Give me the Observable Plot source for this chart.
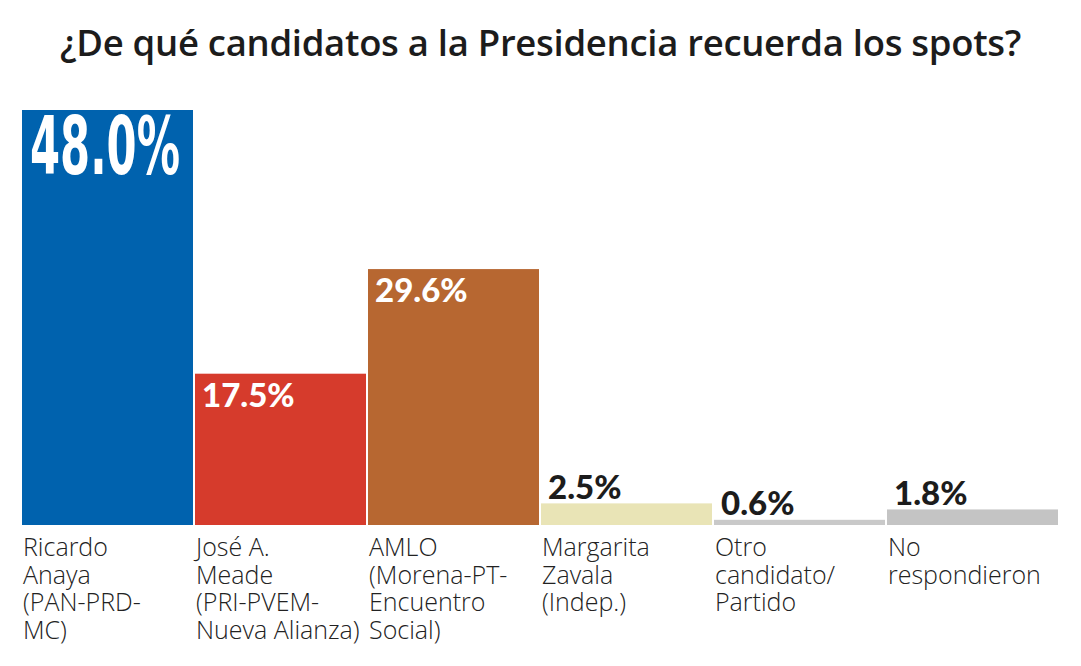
<!DOCTYPE html>
<html><head><meta charset="utf-8">
<script src="https://cdn.jsdelivr.net/npm/d3@7"></script>
<script src="https://cdn.jsdelivr.net/npm/@observablehq/plot@0.6"></script>
<style>
body{margin:0;background:#fff;width:1081px;height:666px;overflow:hidden}
#title{font-family:"Open Sans","Noto Sans",sans-serif;font-weight:600;font-size:36.5px;color:#1c1c1c;text-align:center;height:85px;box-sizing:border-box;padding-top:24px;line-height:1;letter-spacing:-0.3px;white-space:nowrap}
#chart svg{display:block}
</style></head><body>
<div id="title">¿De qué candidatos a la Presidencia recuerda los spots?</div>
<div id="chart"></div>
<script>
const categories = [
  "Ricardo\nAnaya\n(PAN-PRD-\nMC)",
  "José A.\nMeade\n(PRI-PVEM-\nNueva Alianza)",
  "AMLO\n(Morena-PT-\nEncuentro\nSocial)",
  "Margarita\nZavala\n(Indep.)",
  "Otro\ncandidato/\nPartido",
  "No\nrespondieron"
];
const values = [48.0, 17.5, 29.6, 2.5, 0.6, 1.8];
const valueLabels = ["48.0%", "17.5%", "29.6%", "2.5%", "0.6%", "1.8%"];
const colors = ["#0062ae", "#d63b2c", "#b76731", "#e9e4b6", "#c9c9c9", "#c4c4c4"];

const data = categories.map((c, i) => ({cat: c, value: values[i], label: valueLabels[i], i}));

const chart = Plot.plot({
  width: 1081,
  height: 581,
  marginLeft: 22,
  marginRight: 23,
  marginTop: 25,
  marginBottom: 141,
  x: {domain: categories, paddingInner: 0.012, paddingOuter: 0, axis: null},
  y: {domain: [0, 48], axis: null},
  color: {domain: categories, range: colors},
  marks: [
    Plot.barY(data, {x: "cat", y: "value", fill: "cat"}),
    // big label
    Plot.text(data.filter(d => d.i === 0), {
      x: "cat", y: "value", text: "label", textAnchor: "start", lineAnchor: "top",
      dx: -78, dy: 7, fill: "white", fontSize: 80, fontWeight: 700,
      fontFamily: "'Liberation Sans Narrow', 'DejaVu Sans Condensed', sans-serif"
    }),
    // inside labels
    Plot.text(data.filter(d => d.i > 0 && d.value > 10), {
      x: "cat", y: "value", text: "label", textAnchor: "start", lineAnchor: "top",
      dx: -79, dy: 9, fill: "white", fontSize: 33, fontWeight: 900,
      fontFamily: "Lato, 'Noto Sans', sans-serif"
    }),
    // outside labels
    Plot.text(data.filter(d => d.value <= 10), {
      x: "cat", y: "value", text: "label", textAnchor: "start", lineAnchor: "bottom",
      dx: -79, dy: -5, fill: "#1c1c1c", fontSize: 33, fontWeight: 900,
      fontFamily: "Lato, 'Noto Sans', sans-serif"
    }),
    // category labels
    Plot.text(data, {
      x: "cat", y: 0, text: "cat", textAnchor: "start", lineAnchor: "top",
      dx: -85, dy: 11, fill: "#222", fontSize: 25, fontWeight: 300, lineHeight: 1.1,
      fontFamily: "'Open Sans', 'Noto Sans', sans-serif"
    })
  ]
});
document.getElementById("chart").appendChild(chart);
// condense the large label to match the reference's narrow type
d3.select(chart).selectAll("text").filter(function(){ return this.textContent === valueLabels[0]; })
  .attr("textLength", 150).attr("lengthAdjust", "spacingAndGlyphs");
</script>
</body></html>
